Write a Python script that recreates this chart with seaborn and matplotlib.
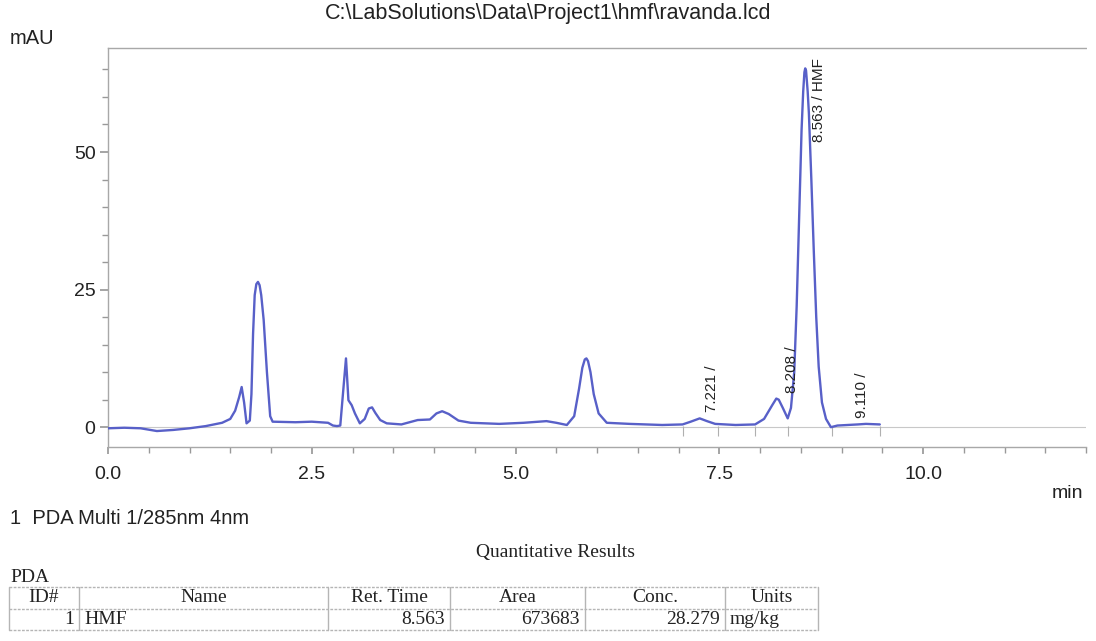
import numpy as np
import pandas as pd
import matplotlib
matplotlib.use("Agg")
import matplotlib.pyplot as plt
import seaborn as sns
from matplotlib.ticker import MultipleLocator, FormatStrFormatter

# Kromatogram verisi (resimden okunan noktalar)
zaman = [0.00, 0.20, 0.40, 0.60, 0.80, 1.00, 1.20, 1.40, 1.50, 1.56, 1.61, 1.64, 1.67,
         1.70, 1.74, 1.76, 1.78, 1.80, 1.82, 1.84, 1.86, 1.88, 1.91, 1.95, 1.99, 2.02,
         2.30, 2.50, 2.70, 2.76, 2.81, 2.85, 2.89, 2.92, 2.95, 2.99, 3.03, 3.09, 3.15,
         3.20, 3.24, 3.28, 3.34, 3.42, 3.60, 3.70, 3.80, 3.95, 4.03, 4.10, 4.18, 4.30,
         4.45, 4.80, 5.10, 5.38, 5.50, 5.63, 5.72, 5.78, 5.82, 5.85, 5.87, 5.89, 5.92,
         5.96, 6.02, 6.12, 6.40, 6.80, 7.05, 7.15, 7.26, 7.35, 7.45, 7.70, 7.94, 8.05,
         8.15, 8.20, 8.23, 8.28, 8.34, 8.38, 8.42, 8.45, 8.48, 8.51, 8.53, 8.545, 8.555,
         8.565, 8.585, 8.60, 8.63, 8.66, 8.69, 8.72, 8.76, 8.81, 8.87, 8.95, 9.20, 9.30,
         9.47]
sinyal = [-0.2, -0.1, -0.2, -0.7, -0.5, -0.2, 0.2, 0.8, 1.5, 3.0, 5.5, 7.3, 4.5,
          0.7, 1.2, 6.0, 17.0, 24.0, 26.0, 26.4, 25.8, 24.0, 19.5, 10.0, 2.0, 1.0,
          0.9, 1.0, 0.8, 0.3, 0.2, 0.3, 7.3, 12.5, 4.9, 4.0, 2.5, 0.7, 1.5,
          3.4, 3.6, 2.6, 1.3, 0.7, 0.5, 0.9, 1.3, 1.4, 2.5, 2.9, 2.4, 1.2,
          0.8, 0.6, 0.8, 1.1, 0.8, 0.4, 2.0, 7.0, 10.8, 12.3, 12.5, 12.0, 10.0,
          6.0, 2.5, 0.8, 0.6, 0.4, 0.5, 1.0, 1.6, 1.1, 0.6, 0.4, 0.5, 1.5,
          4.0, 5.2, 5.0, 3.5, 1.6, 3.5, 10.0, 22.0, 38.0, 54.0, 61.0, 64.5, 65.2,
          64.8, 61.0, 57.0, 45.0, 32.0, 20.0, 11.0, 4.5, 1.5, 0.0, 0.3, 0.5, 0.6,
          0.5]

# Pik etiketleri
etiket_x = [7.41, 8.39, 8.72, 9.25]
etiket_y = [2.7, 6.2, 51.8, 1.6]
etiketler = ["7.221 /", "8.208 /", "8.563 / HMF", "9.110 /"]

# İntegrasyon işaretleri
isaret_x = [7.05, 7.48, 7.94, 8.34, 8.88, 9.47]

# Sonuç tablosu
tablo_baslik = ["ID#", "Name", "Ret. Time", "Area", "Conc.", "Units"]
tablo_satir = ["1", "HMF", "8.563", "673683", "28.279", "mg/kg"]

df = pd.DataFrame({"min": zaman, "mAU": sinyal})

sns.set_theme(style="white")
plt.rcParams['font.family'] = ['Liberation Sans', 'DejaVu Sans']

fig = plt.figure(figsize=(10.96, 6.41), dpi=100)
ax = fig.add_axes([108 / 1096, 1 - 447 / 641, 978 / 1096, 399 / 641])

ax.axhline(0, color="#c8c8c8", lw=0.8, zorder=1)
sns.lineplot(data=df, x="min", y="mAU", ax=ax, color="#5860c8", lw=1.7,
             sort=False, estimator=None, zorder=3,
             solid_joinstyle="round", solid_capstyle="round")
ax.vlines(isaret_x, -1.6, 0.3, color="#b0b0b0", lw=0.8)

for x, y, t in zip(etiket_x, etiket_y, etiketler):
    ax.text(x, y, t, rotation=90, ha="center", va="bottom", fontsize=11, color="#222222")

ax.set_xlim(0, 12)
ax.set_ylim(-3.6, 68.9)
ax.xaxis.set_major_locator(MultipleLocator(2.5))
ax.xaxis.set_minor_locator(MultipleLocator(0.5))
ax.yaxis.set_major_locator(MultipleLocator(25))
ax.yaxis.set_minor_locator(MultipleLocator(5))
ax.xaxis.set_major_formatter(FormatStrFormatter("%.1f"))
ax.tick_params(axis="both", which="both", direction="out", color="#999999",
               labelsize=14, labelcolor="#222222")
ax.tick_params(axis="x", which="major", length=5, pad=9, bottom=True)
ax.tick_params(axis="x", which="minor", length=4, bottom=True)
ax.tick_params(axis="y", which="major", length=6, pad=3, left=True)
ax.tick_params(axis="y", which="minor", length=4, left=True)
ax.set_xlabel("")
ax.set_ylabel("")
for s in ["left", "bottom", "top"]:
    ax.spines[s].set_color("#a8a8a8")
    ax.spines[s].set_linewidth(1.0)
ax.spines["top"].set_linestyle((0, (2, 1)))
ax.spines["right"].set_visible(False)

# Metinler ve tablo için piksel koordinatlı katman
ov = fig.add_axes([0, 0, 1, 1], zorder=-1)
ov.set_xlim(0, 1096)
ov.set_ylim(641, 0)
ov.axis("off")

ov.text(548, 13, r"C:\LabSolutions\Data\Project1\hmf\ravanda.lcd", ha="center", va="center",
        fontsize=15.5, color="#222222")
ov.text(10, 38, "mAU", ha="left", va="center", fontsize=14.5, color="#222222")
ov.text(1082, 62, "PDA Multi 1", ha="right", va="center", fontsize=14, color="#222222")
ov.text(1083, 494, "min", ha="right", va="center", fontsize=14, color="#222222")
ov.text(10, 518, "1  PDA Multi 1/285nm 4nm", ha="left", va="center", fontsize=14.5, color="#222222")

serif = ['Liberation Serif', 'DejaVu Serif']
ov.text(555, 552, "Quantitative Results", ha="center", va="center", fontsize=14,
        family=serif, color="#222222")
ov.text(10, 577, "PDA", ha="left", va="center", fontsize=14, family=serif, color="#222222")

kolon = [9, 79, 328, 450, 585, 725, 818]
satir_y = [587, 609, 630]
for y in satir_y:
    ov.plot([kolon[0], kolon[-1]], [y, y], color="#b5b5b5", lw=1.0, ls=(0, (2, 1)))
for x in kolon:
    ov.plot([x, x], [satir_y[0], satir_y[-1]], color="#b5b5b5", lw=1.0)

for i, t in enumerate(tablo_baslik):
    ov.text((kolon[i] + kolon[i + 1]) / 2, 598, t, ha="center", va="center",
            fontsize=14, family=serif, color="#222222")

hiza = ["right", "left", "right", "right", "right", "left"]
for i, t in enumerate(tablo_satir):
    if hiza[i] == "right":
        x = kolon[i + 1] - 5
    else:
        x = kolon[i] + 5
    ov.text(x, 620, t, ha=hiza[i], va="center", fontsize=14, family=serif, color="#222222")

fig.savefig("out.png", dpi=100)
